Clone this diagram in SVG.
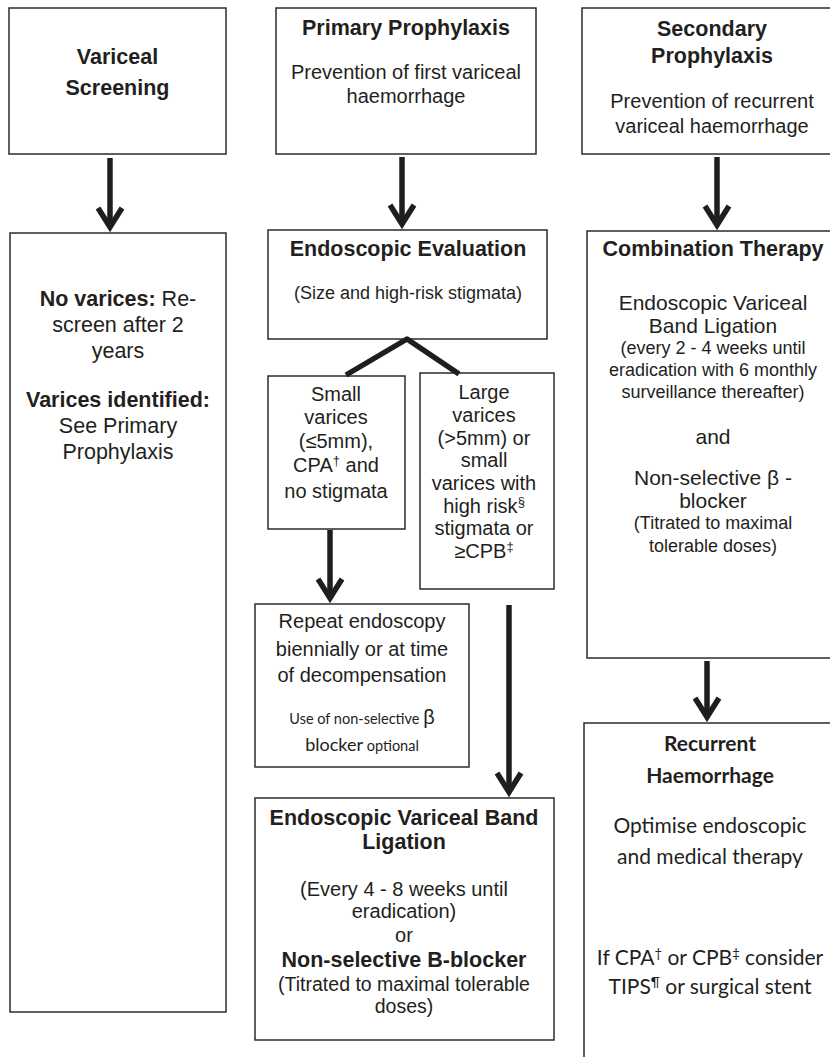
<svg xmlns="http://www.w3.org/2000/svg" xmlns:xlink="http://www.w3.org/1999/xlink" width="830" height="1057" viewBox="0 0 830 1057">
<style>
.box{fill:#fff;stroke:#2b2b2b;stroke-width:1.5}
text{font-family:"Liberation Sans",Arial,sans-serif;fill:#231f20;text-anchor:middle}
.b{font-weight:bold;font-size:21.5px}
.r20{font-size:20px}
.r21{font-size:21px}
.r18{font-size:18px}
.cal{font-family:Lato,"Liberation Sans",sans-serif}
.sup{font-size:13px}
.conn{stroke:#1e1e1e;stroke-width:5.5;fill:none}
.head{stroke:#1e1e1e;stroke-width:5.5;fill:none;stroke-linejoin:miter;stroke-miterlimit:10}
</style>
<defs>
<path id="ah" d="M -12 -19 L 0 0 L 12 -19"/>
</defs>
<rect width="830" height="1057" fill="#fff"/>

<g id="variceal-screening">
<rect class="box" x="9" y="8" width="217" height="146"/>
<text class="b" x="117.5" y="64">Variceal</text>
<text class="b" x="117.5" y="95">Screening</text>
</g>

<g id="primary-prophylaxis">
<rect class="box" x="276" y="8" width="260" height="146"/>
<text class="b" x="406" y="35">Primary Prophylaxis</text>
<text class="r20" x="406" y="79">Prevention of first variceal</text>
<text class="r20" x="406" y="103">haemorrhage</text>
</g>

<g id="secondary-prophylaxis">
<rect class="box" x="582" y="8" width="262" height="146"/>
<text class="b" x="712" y="36">Secondary</text>
<text class="b" x="712" y="63">Prophylaxis</text>
<text class="r20" x="712" y="108">Prevention of recurrent</text>
<text class="r20" x="712" y="133">variceal haemorrhage</text>
</g>

<g id="screening-result">
<rect class="box" x="10" y="233" width="216" height="779"/>
<text x="118" y="306" font-size="21.5"><tspan font-weight="bold">No varices:</tspan> Re-</text>
<text x="118" y="332" font-size="21.5">screen after 2</text>
<text x="118" y="358" font-size="21.5">years</text>
<text x="118" y="407" font-size="21.5" font-weight="bold">Varices identified:</text>
<text x="118" y="433" font-size="21.5">See Primary</text>
<text x="118" y="459" font-size="21.5">Prophylaxis</text>
</g>

<g id="endoscopic-evaluation">
<rect class="box" x="268" y="230" width="279" height="109"/>
<text class="b" x="408" y="256">Endoscopic Evaluation</text>
<text class="r18" x="408" y="299">(Size and high-risk stigmata)</text>
</g>

<g id="small-varices">
<rect class="box" x="268" y="376" width="137" height="153"/>
<text class="r20" x="336" y="401">Small</text>
<text class="r20" x="336" y="424">varices</text>
<text class="r20" x="336" y="448">(≤5mm),</text>
<text class="r20" x="336" y="472">CPA<tspan class="sup" dy="-7">†</tspan><tspan dy="7"> and</tspan></text>
<text class="r20" x="336" y="498">no stigmata</text>
</g>

<g id="large-varices">
<rect class="box" x="420" y="373" width="134" height="216"/>
<text class="r20" x="484" y="399">Large</text>
<text class="r20" x="484" y="422">varices</text>
<text class="r20" x="484" y="444.5">(&gt;5mm) or</text>
<text class="r20" x="484" y="467">small</text>
<text class="r20" x="484" y="490">varices with</text>
<text class="r20" x="484" y="512.5">high risk<tspan class="sup" dy="-7">§</tspan></text>
<text class="r20" x="484" y="535">stigmata or</text>
<text class="r20" x="484" y="558">≥CPB<tspan class="sup" dy="-7">‡</tspan></text>
</g>

<g id="repeat-endoscopy">
<rect class="box" x="255" y="604" width="214" height="163"/>
<text class="r20" x="362" y="628">Repeat endoscopy</text>
<text class="r20" x="362" y="656">biennially or at time</text>
<text class="r20" x="362" y="682">of decompensation</text>
<text x="362" y="724"><tspan class="cal" font-size="14.5">Use of non-selective </tspan><tspan font-size="20">β</tspan></text>
<text x="362" y="751"><tspan class="cal" font-size="18">blocker</tspan><tspan class="cal" font-size="14.5"> optional</tspan></text>
</g>

<g id="evl-or-bblocker">
<rect class="box" x="255" y="798" width="299" height="242"/>
<text class="b" x="404" y="825">Endoscopic Variceal Band</text>
<text class="b" x="404" y="849">Ligation</text>
<text class="r20" x="404" y="896">(Every 4 - 8 weeks until</text>
<text class="r20" x="404" y="918">eradication)</text>
<text class="r20" x="404" y="942">or</text>
<text class="b" x="404" y="967">Non-selective B-blocker</text>
<text x="404" y="991" font-size="19.5">(Titrated to maximal tolerable</text>
<text x="404" y="1013" font-size="19.5">doses)</text>
</g>

<g id="combination-therapy">
<rect class="box" x="587" y="231" width="257" height="427"/>
<text class="b" x="713" y="256">Combination Therapy</text>
<text class="r21" x="713" y="310">Endoscopic Variceal</text>
<text class="r21" x="713" y="333">Band Ligation</text>
<text class="r18" x="713" y="354">(every 2 - 4 weeks until</text>
<text class="r18" x="713" y="376">eradication with 6 monthly</text>
<text class="r18" x="713" y="398">surveillance thereafter)</text>
<text class="r21" x="713" y="444">and</text>
<text class="r21" x="713" y="485">Non-selective β -</text>
<text class="r21" x="713" y="508">blocker</text>
<text class="r18" x="713" y="529">(Titrated to maximal</text>
<text class="r18" x="713" y="552">tolerable doses)</text>
</g>

<g id="recurrent-haemorrhage">
<rect class="box" x="584" y="723" width="260" height="345"/>
<text class="cal" x="710" y="751" font-size="21" font-weight="bold">Recurrent</text>
<text class="cal" x="710" y="783" font-size="21" font-weight="bold">Haemorrhage</text>
<text class="cal" x="710" y="833" font-size="21">Optimise endoscopic</text>
<text class="cal" x="710" y="864" font-size="21">and medical therapy</text>
<text class="cal" x="710" y="965" font-size="21">If CPA<tspan class="sup" dy="-7">†</tspan><tspan dy="7"> or CPB</tspan><tspan class="sup" dy="-7">‡</tspan><tspan dy="7"> consider</tspan></text>
<text class="cal" x="710" y="994" font-size="21">TIPS<tspan class="sup" dy="-7">¶</tspan><tspan dy="7"> or surgical stent</tspan></text>
</g>

<g id="connectors">
<line class="conn" x1="110" y1="158" x2="110" y2="226"/>
<use xlink:href="#ah" class="head" x="110" y="227"/>
<line class="conn" x1="402" y1="157" x2="402" y2="223"/>
<use xlink:href="#ah" class="head" x="402" y="224"/>
<line class="conn" x1="717" y1="157" x2="717" y2="224"/>
<use xlink:href="#ah" class="head" x="717" y="225"/>
<polyline class="conn" points="346,375 407,339 459,374" stroke-linejoin="round"/>
<line class="conn" x1="330" y1="530" x2="330" y2="597"/>
<use xlink:href="#ah" class="head" x="330" y="598"/>
<line class="conn" x1="509" y1="605" x2="509" y2="791"/>
<use xlink:href="#ah" class="head" x="509" y="792"/>
<line class="conn" x1="707" y1="661" x2="707" y2="716"/>
<use xlink:href="#ah" class="head" x="707" y="717"/>
</g>
</svg>
